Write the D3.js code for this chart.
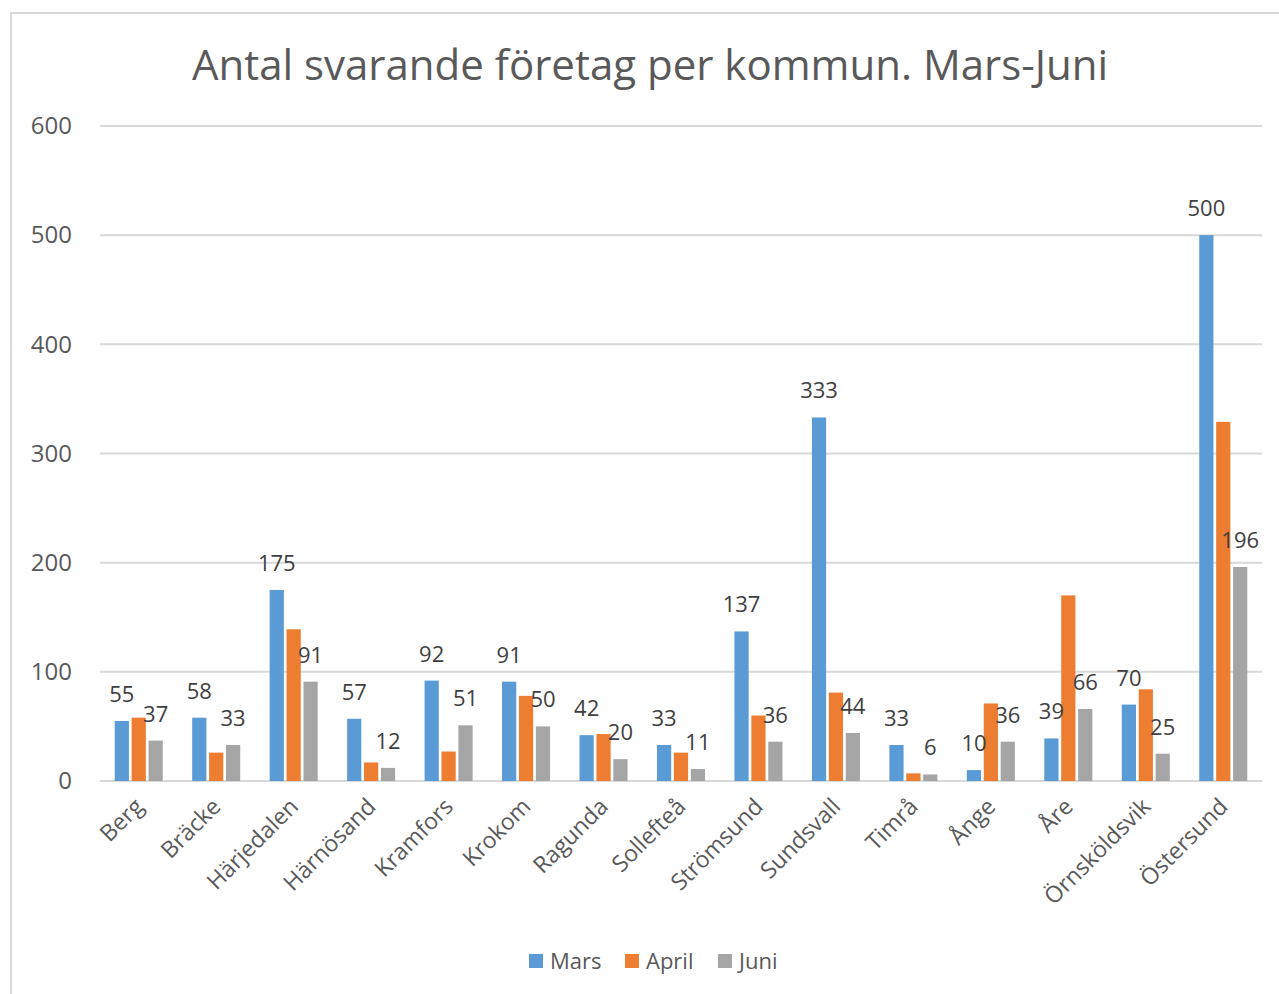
<!DOCTYPE html>
<html lang="sv">
<head>
    <meta charset="UTF-8">
    <title>Antal svarande företag per kommun</title>
    <script src="https://d3js.org/d3.v7.min.js"></script>
    <style>
        body { margin: 0; background: #fff; font-family: "Open Sans", sans-serif; }
    </style>
</head>
<body>
    <svg width="1279" height="994"></svg>
    <script>
        // Data
        const kommuner = ["Berg", "Bräcke", "Härjedalen", "Härnösand", "Kramfors", "Krokom", "Ragunda",
                          "Sollefteå", "Strömsund", "Sundsvall", "Timrå", "Ånge", "Åre", "Örnsköldsvik", "Östersund"];
        const mars  = [55, 58, 175, 57, 92, 91, 42, 33, 137, 333, 33, 10, 39, 70, 500];
        const april = [58, 26, 139, 17, 27, 78, 43, 26, 60, 81, 7, 71, 170, 84, 329];
        const juni  = [37, 33, 91, 12, 51, 50, 20, 11, 36, 44, 6, 36, 66, 25, 196];
        const seriesNames = ["Mars", "April", "Juni"];
        const colors = ["#5b9bd5", "#ed7d31", "#a5a5a5"];
        const yTicks = [0, 100, 200, 300, 400, 500, 600];
        // which series carry a data label
        const labelled = ["Mars", "Juni"];

        const values = { Mars: mars, April: april, Juni: juni };
        const rows = kommuner.map((k, i) => ({ kommun: k, vals: seriesNames.map(s => ({ s, v: values[s][i] })) }));

        const svg = d3.select("svg");

        // chart border
        svg.append("rect")
           .attr("x", 11).attr("y", 13)
           .attr("width", 1300).attr("height", 1000)
           .attr("fill", "none")
           .attr("stroke", "#d9d9d9")
           .attr("stroke-width", 2);

        const plotLeft = 100, plotRight = 1262, plotTop = 126, plotBottom = 781;

        const y = d3.scaleLinear().domain([0, 600]).range([plotBottom, plotTop]);
        const x0 = d3.scaleBand().domain(kommuner).range([plotLeft, plotRight])
                     .paddingInner(0.38).paddingOuter(0.19);
        const x1 = d3.scaleBand().domain(seriesNames).range([0, x0.bandwidth()])
                     .paddingInner(0.16);
        const color = d3.scaleOrdinal().domain(seriesNames).range(colors);

        // title
        svg.append("text")
           .attr("x", 650).attr("y", 80)
           .attr("text-anchor", "middle")
           .attr("fill", "#595959")
           .style("font-size", "42px")
           .text("Antal svarande företag per kommun. Mars-Juni");

        // gridlines
        svg.append("g").selectAll("line")
           .data(yTicks)
           .join("line")
           .attr("x1", plotLeft).attr("x2", plotRight)
           .attr("y1", d => y(d)).attr("y2", d => y(d))
           .attr("stroke", "#d9d9d9")
           .attr("stroke-width", 2);

        // y axis
        const yAxis = svg.append("g")
           .attr("transform", `translate(${plotLeft},0)`)
           .call(d3.axisLeft(y).tickValues(yTicks).tickSize(0).tickPadding(28));
        yAxis.select(".domain").remove();
        yAxis.selectAll("text")
             .attr("fill", "#595959")
             .style("font-size", "24px")
             .style("font-family", "Open Sans, sans-serif");

        // bars
        const groups = svg.append("g").selectAll("g")
           .data(rows)
           .join("g")
           .attr("transform", d => `translate(${x0(d.kommun)},0)`);

        groups.selectAll("rect")
              .data(d => d.vals)
              .join("rect")
              .attr("x", d => x1(d.s))
              .attr("y", d => y(d.v))
              .attr("width", x1.bandwidth())
              .attr("height", d => y(0) - y(d.v))
              .attr("fill", d => color(d.s));

        groups.selectAll("text")
              .data(d => d.vals.filter(v => labelled.includes(v.s)))
              .join("text")
              .attr("x", d => x1(d.s) + x1.bandwidth() / 2)
              .attr("y", d => y(d.v) - 19)
              .attr("text-anchor", "middle")
              .attr("fill", "#404040")
              .style("font-size", "22px")
              .text(d => d.v);

        // category labels
        const xAxis = svg.append("g")
           .attr("transform", `translate(0,${plotBottom})`)
           .call(d3.axisBottom(x0).tickSize(0).tickPadding(0));
        xAxis.select(".domain").remove();
        xAxis.selectAll("text")
             .attr("fill", "#595959")
             .style("font-size", "23px")
             .style("font-family", "Open Sans, sans-serif")
             .attr("text-anchor", "end")
             .attr("dy", null)
             .attr("y", 0)
             .attr("transform", "translate(6,27) rotate(-45)");

        // legend
        const legend = svg.append("g").attr("transform", "translate(529,961)");
        const legendOffsets = [0, 96, 189];
        const items = legend.selectAll("g")
           .data(seriesNames)
           .join("g")
           .attr("transform", (d, i) => `translate(${legendOffsets[i]},0)`);
        items.append("rect")
             .attr("x", 0).attr("y", -7)
             .attr("width", 14).attr("height", 14)
             .attr("fill", d => color(d));
        items.append("text")
             .attr("x", 21).attr("y", 8)
             .attr("fill", "#595959")
             .style("font-size", "22px")
             .text(d => d);
    </script>
</body>
</html>
